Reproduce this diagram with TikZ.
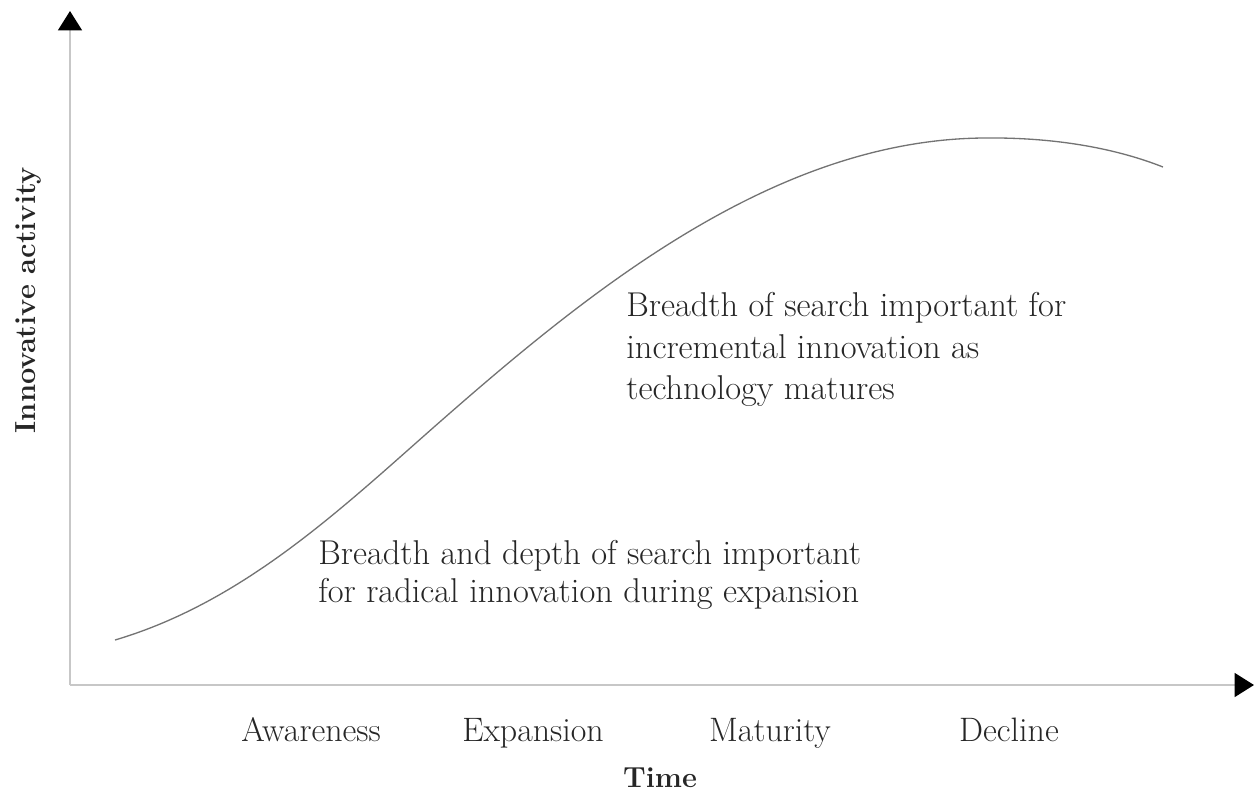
\documentclass[tikz,border=0pt]{standalone}
\usetikzlibrary{arrows.meta}
\begin{document}
\begin{tikzpicture}[x=0.02cm,y=-0.02cm,
  axisline/.style={draw=black!22,line width=1.3pt,
    -{Triangle[length=11pt,width=13.5pt,color=black,fill=black]}},
  curveline/.style={draw=black!55,line width=0.75pt},
  bodytext/.style={anchor=north west,inner sep=0pt,align=left,text=black!85},
  stagelabel/.style={anchor=base,inner sep=0pt,font=\fontsize{19.3}{22}\selectfont,text=black!85},
  axislabel/.style={inner sep=0pt,font=\fontsize{16.5}{19}\selectfont\bfseries,text=black!85}]
\useasboundingbox (0,0) rectangle (1255,796);
\coordinate (origin) at (70,685);
\coordinate (ytip) at (70,11);
\coordinate (xtip) at (1254,685);
\draw[axisline] (origin) -- (ytip);
\draw[axisline] (origin) -- (xtip);
\coordinate (c0) at (115,640);
\coordinate (c1) at (450,413);
\coordinate (c2) at (983,138);
\coordinate (c3) at (1163,167);
\draw[curveline] (c0) .. controls (250,600) and (350,500) .. (c1)
  .. controls (600,282) and (780,140) .. (c2)
  .. controls (1060,137) and (1120,150) .. (c3);
\node[bodytext,font=\fontsize{19.6}{21.6}\selectfont] (lowtext) at (318,540) {Breadth and depth of search important\\for radical innovation during expansion};
\node[bodytext,font=\fontsize{19.6}{23.7}\selectfont] (hightext) at (626,292) {Breadth of search important for\\incremental innovation as\\technology matures};
\node[stagelabel] (aw) at (311,741) {Awareness};
\node[stagelabel] (ex) at (533,741) {Expansion};
\node[stagelabel] (ma) at (770,741) {Maturity};
\node[stagelabel] (de) at (1009,741) {Decline};
\node[axislabel] (time) at (660,778) {Time};
\node[axislabel,rotate=90] (ylab) at (28,300) {Innovative activity};
\end{tikzpicture}
\end{document}
